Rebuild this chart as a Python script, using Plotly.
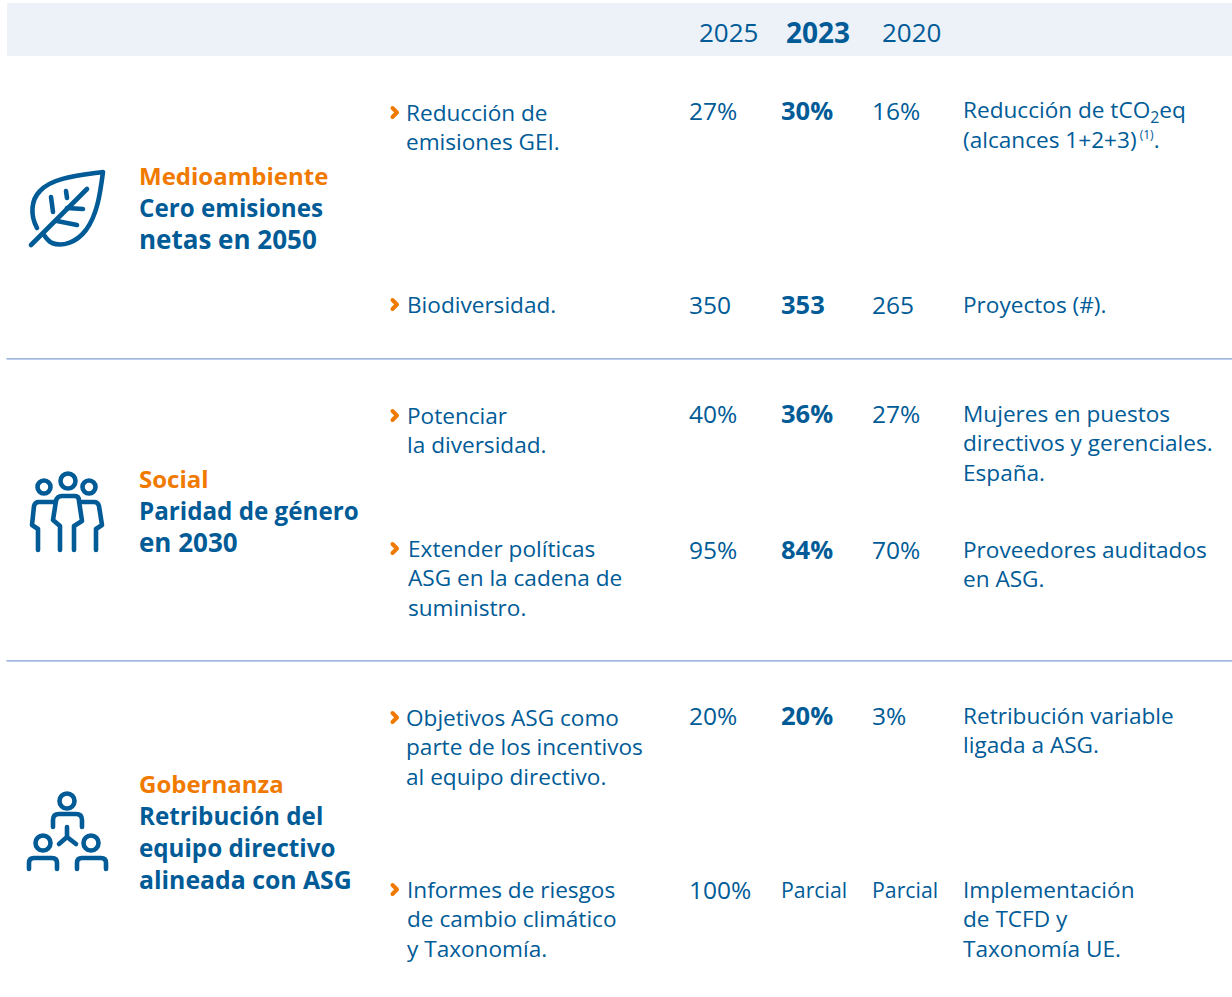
import plotly.graph_objects as go

BLUE = "#005b97"
ORANGE = "#f07a00"
FONT = "Open Sans"

# ---- content ----
years = ["2025", "2023", "2020"]
pillars = ["Medioambiente", "Social", "Gobernanza"]
pillar_goals = [
    ["Cero emisiones", "netas en 2050"],
    ["Paridad de género", "en 2030"],
    ["Retribución del", "equipo directivo", "alineada con ASG"],
]
initiatives = [
    ["Reducción de", "emisiones GEI."],
    ["Biodiversidad."],
    ["Potenciar", "la diversidad."],
    ["Extender políticas", "ASG en la cadena de", "suministro."],
    ["Objetivos ASG como", "parte de los incentivos", "al equipo directivo."],
    ["Informes de riesgos", "de cambio climático", "y Taxonomía."],
]
values_2025 = ["27%", "350", "40%", "95%", "20%", "100%"]
values_2023 = ["30%", "353", "36%", "84%", "20%", "Parcial"]
values_2020 = ["16%", "265", "27%", "70%", "3%", "Parcial"]
metrics = [
    ["Reducción de tCO<sub>2</sub>eq", "(alcances 1+2+3)<sup><span style='font-size:12px'> (1)</span></sup>."],
    ["Proyectos (#)."],
    ["Mujeres en puestos", "directivos y gerenciales.", "España."],
    ["Proveedores auditados", "en ASG."],
    ["Retribución variable", "ligada a ASG."],
    ["Implementación", "de TCFD y", "Taxonomía UE."],
]

# ---- layout constants (pixels) ----
W, H = 1232, 997
LINE = 29.4
PAD = 2  # annotation box padding
pillar_y = [175, 478, 783]
row_text_y = [112.5, 304.5, 415.5, 548.5, 717.5, 889.5]
row_val_y = [110, 304, 413, 549, 715, 889]
row_metric_y = [110.5, 304.5, 413.5, 549.5, 715.5, 889.5]
init_x = [406, 406.5, 406.5, 407.5, 406, 406.5]
col_x = [689, 781, 872]
metric_x = 963
head_x = 138.5

ann = []
shapes = []


def text(x, y, s, size=22.6, color=BLUE, bold=False, anchor="left"):
    ann.append(dict(
        x=x - PAD, y=y, xref="x", yref="y", xanchor=anchor, yanchor="middle",
        text=f"<b>{s}</b>" if bold else s, showarrow=False,
        font=dict(family=FONT, size=size, color=color), align=anchor,
    ))


def stroke(path, width=4.6, color=BLUE):
    shapes.append(dict(type="path", path=path, xref="x", yref="y",
                       line=dict(color=color, width=width), fillcolor="rgba(0,0,0,0)", layer="above"))


def ring(cx, cy, r, width=4.6):
    shapes.append(dict(type="circle", xref="x", yref="y", x0=cx - r, x1=cx + r, y0=cy - r, y1=cy + r,
                       line=dict(color=BLUE, width=width), fillcolor="rgba(0,0,0,0)", layer="above"))


# header band and separators
shapes.append(dict(type="rect", xref="x", yref="y", x0=7, x1=W, y0=3, y1=56,
                   fillcolor="#edf1f8", line=dict(width=0), layer="below"))
for ly in (358.9, 660.9):
    shapes.append(dict(type="line", xref="x", yref="y", x0=7, x1=W, y0=ly, y1=ly,
                       line=dict(color="#7f9fd4", width=1.4), layer="below"))

# header
for x, y_lbl, b in zip([699, 786, 882], years, [False, True, False]):
    text(x, 31.5, y_lbl, size=28 if b else 26, bold=b)

# pillars
for name, goal, y in zip(pillars, pillar_goals, pillar_y):
    text(head_x, y, name, size=24, color=ORANGE, bold=True)
    for i, g in enumerate(goal):
        size = 26 if any(c.isdigit() for c in g) else (24.8 if g.endswith("ASG") else 24.2)
        text(head_x, y + 32 * (i + 1), g, size=size, bold=True)

# rows
for i, lines in enumerate(initiatives):
    y = row_text_y[i]
    stroke(f"M392.5,{y-4.5} L397,{y} L392.5,{y+4.5}", width=4, color=ORANGE)
    for j, s in enumerate(lines):
        text(init_x[i], y + LINE * j, s)
    for x, vals, bold in zip(col_x, [values_2025, values_2023, values_2020], [False, True, False]):
        v = vals[i]
        is_word = v == "Parcial"
        text(x, row_val_y[i], v, size=21.3 if is_word else (25.5 if bold else 24.5), bold=bold and not is_word)
    for j, s in enumerate(metrics[i]):
        text(metric_x, row_metric_y[i] + LINE * j, s)

# leaf icon
stroke("M37,228 C30,215 31,200 40,191 C52,178 75,176 103,172 C100,195 97,215 86,230 C76,243 62,247 52,243 C48,241 46,238 44,235")
stroke("M31,245 L87,189")
stroke("M51,197 L53,212")
stroke("M66,191 L67,198")
stroke("M67,208 L83,209")
stroke("M57,221 L77,225")

# people icon
ring(68, 481, 7.5)
ring(44, 487, 6.5)
ring(89, 487, 6.5)
stroke("M60,550 L60,526 L53,520 L56,501 Q57,496 62,496 L75,496 Q79,496 79,501 L82,521 L74,526 L74,550")
stroke("M38,550 L38,529 L32,525 L34,506 Q35,502 39,502 L55,502")
stroke("M96,550 L96,529 L102,525 L99,506 Q98,502 94,502 L80,502")

# governance icon
ring(67, 801, 7.5)
ring(43, 843, 7.5)
ring(91, 843, 7.5)
stroke("M53,827 L53,820 Q53,814 59,814 L76,814 Q82,814 82,820 L82,827")
stroke("M67,827 L67,837 M59,844 L67,837 L76,844")
stroke("M29,869 L29,863 Q29,858 34,858 L52,858 Q57,858 57,863 L57,869")
stroke("M77,869 L77,863 Q77,858 82,858 L101,858 Q106,858 106,863 L106,869")

fig = go.Figure()
fig.update_layout(
    width=W, height=H, margin=dict(l=0, r=0, t=0, b=0),
    paper_bgcolor="white", plot_bgcolor="white", showlegend=False,
    xaxis=dict(range=[0, W], visible=False, fixedrange=True),
    yaxis=dict(range=[H, 0], visible=False, fixedrange=True),
    annotations=ann, shapes=shapes,
)
fig.write_html(
    "out.html", config={"displayModeBar": False},
    post_script=(
        "document.body.style.margin='0';document.documentElement.style.overflow='hidden';"
        "var s=document.createElement('style');"
        "s.textContent='.shapelayer path{stroke-linecap:round;stroke-linejoin:round}';"
        "document.head.appendChild(s);"
    ),
)
